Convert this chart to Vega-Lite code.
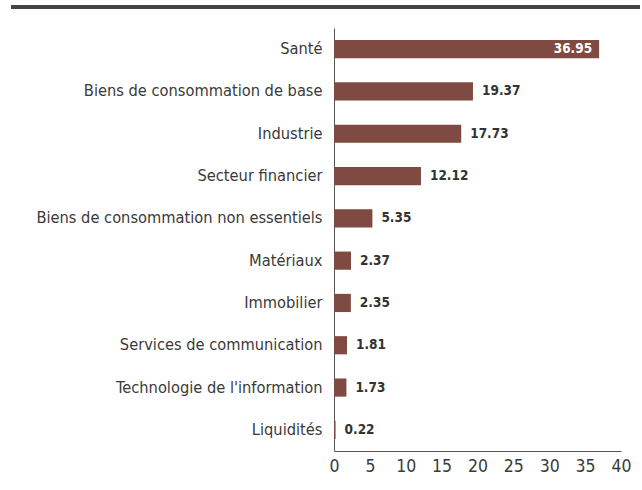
{
  "$schema": "https://vega.github.io/schema/vega-lite/v6.json",
  "autosize": {"type": "none"},
  "width": 287,
  "height": 423,
  "padding": {"left": 334, "top": 28, "right": 21, "bottom": 39},
  "background": "white",
  "config": {"view": {"stroke": null}, "font": "DejaVu Sans Condensed"},
  "data": {"values": [
    {"secteur": "Santé", "valeur": 36.95},
    {"secteur": "Biens de consommation de base", "valeur": 19.37},
    {"secteur": "Industrie", "valeur": 17.73},
    {"secteur": "Secteur financier", "valeur": 12.12},
    {"secteur": "Biens de consommation non essentiels", "valeur": 5.35},
    {"secteur": "Matériaux", "valeur": 2.37},
    {"secteur": "Immobilier", "valeur": 2.35},
    {"secteur": "Services de communication", "valeur": 1.81},
    {"secteur": "Technologie de l'information", "valeur": 1.73},
    {"secteur": "Liquidités", "valeur": 0.22}
  ]},
  "encoding": {
    "y": {"field": "secteur", "type": "nominal", "sort": null,
      "scale": {"paddingInner": 0.57, "paddingOuter": 0.285},
      "axis": {"title": null, "domain": true, "domainColor": "#555", "domainWidth": 1, "ticks": false, "labelPadding": 12, "labelFontSize": 16.3, "labelColor": "#3a3a3a", "labelLimit": 400, "labelFont": "DejaVu Sans Condensed"}},
    "x": {"field": "valeur", "type": "quantitative",
      "scale": {"domain": [0, 40], "nice": false},
      "axis": {"title": null, "values": [0,5,10,15,20,25,30,35,40], "grid": false, "domainColor": "#555", "domainWidth": 1, "ticks": false, "labelPadding": 6, "labelFontSize": 17.5, "labelColor": "#3a3a3a", "labelFont": "DejaVu Sans Condensed", "labelFlush": false}}
  },
  "layer": [
    {"mark": {"type": "bar", "color": "#7f4a42"}},
    {"transform": [{"filter": "datum.valeur < 30"}],
     "mark": {"type": "text", "align": "left", "baseline": "middle", "dx": 9, "fontSize": 13.5, "fontWeight": "bold", "color": "#333", "font": "DejaVu Sans Condensed"},
     "encoding": {"text": {"field": "valeur", "type": "quantitative", "format": ".2f"}}},
    {"transform": [{"filter": "datum.valeur >= 30"}],
     "mark": {"type": "text", "align": "right", "baseline": "middle", "dx": -7, "fontSize": 13.5, "fontWeight": "bold", "color": "white", "font": "DejaVu Sans Condensed"},
     "encoding": {"text": {"field": "valeur", "type": "quantitative", "format": ".2f"}}},
    {"data": {"values": [{}]},
     "mark": {"type": "rule", "color": "#444", "strokeWidth": 4, "clip": false},
     "encoding": {"x": {"value": -323}, "x2": {"value": 306}, "y": {"value": -21}}}
  ]
}
